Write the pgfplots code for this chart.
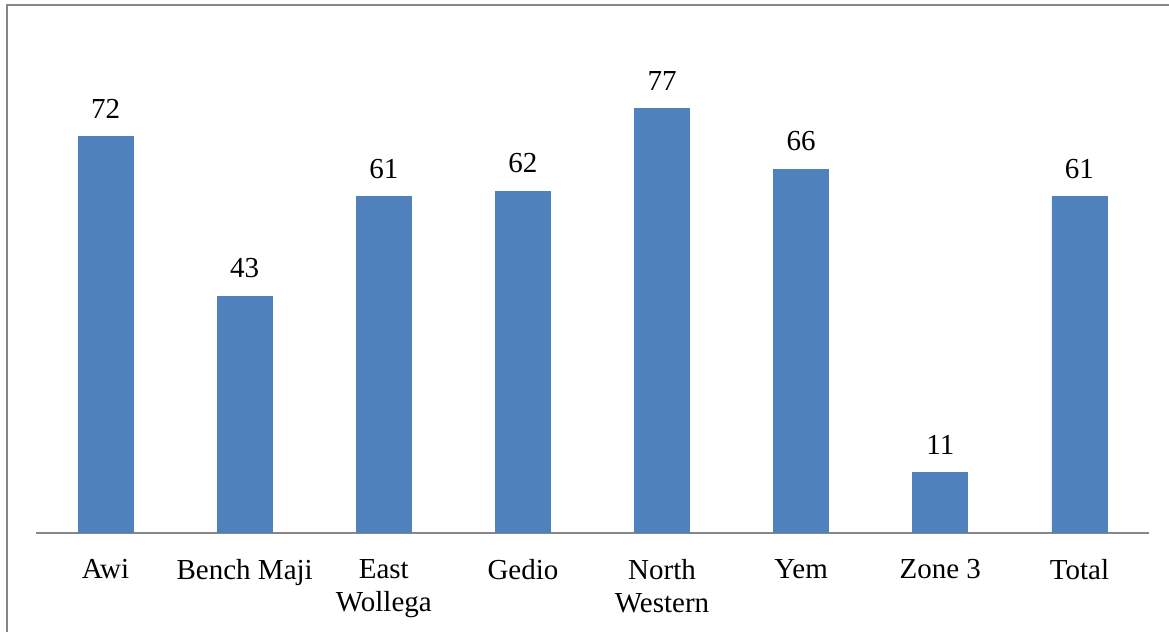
\documentclass[border=0pt]{standalone}
\usepackage{fontspec}
\setmainfont{Liberation Serif}
\usepackage{pgfplots}
\pgfplotsset{compat=1.18}
\definecolor{barblue}{RGB}{79,129,189}
\definecolor{framegray}{RGB}{134,134,134}
\begin{document}
\fontsize{14.5}{16.5}\selectfont
\begin{tikzpicture}
\useasboundingbox (0,0) rectangle (584.5pt,316pt);
% chart frame (only left and top are visible)
\draw[framegray, line width=1pt] (3.5pt,0) -- (3.5pt,313.5pt) -- (584.5pt,313.5pt);
\begin{axis}[
    at={(18pt,49.5pt)},
    anchor=south west,
    scale only axis,
    width=556.5pt,
    height=248pt,
    xmin=-0.5, xmax=7.5,
    ymin=0, ymax=90,
    ybar,
    bar width=27.5pt,
    axis y line=none,
    axis x line*=bottom,
    x axis line style={framegray, line width=1pt, -},
    xtick={0,1,2,3,4,5,6,7},
    xticklabels={Awi,Bench Maji,East\\Wollega,Gedio,North\\Western,Yem,Zone 3,Total},
    x tick label style={align=center, font=\fontsize{14.5}{16.5}\selectfont, yshift=-8pt},
    major tick length=0pt,
    /pgf/number format/assume math mode=true,
    nodes near coords,
    every node near coord/.append style={font=\fontsize{14.5}{16.5}\selectfont, yshift=4pt},
]
\addplot[fill=barblue, draw=barblue] coordinates {
    (0,72) (1,43) (2,61) (3,62) (4,77) (5,66) (6,11) (7,61)
};
\end{axis}
\end{tikzpicture}
\end{document}
